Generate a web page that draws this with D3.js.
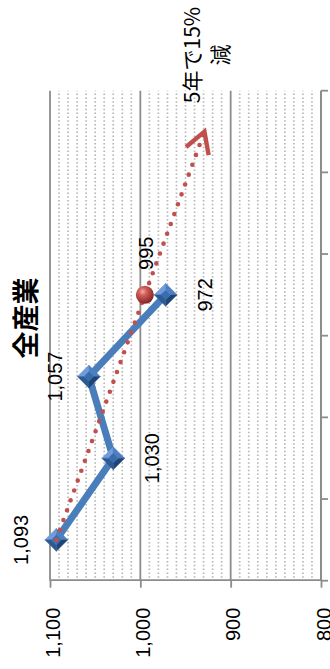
<!DOCTYPE html>
<html>
<head>
<meta charset="utf-8">
<script src="https://cdn.jsdelivr.net/npm/d3@7"></script>
<style>
  html, body { margin: 0; padding: 0; background: #fff; overflow: hidden; }
  svg { display: block; }
</style>
</head>
<body>
<svg id="chart" width="330" height="669"></svg>
<script>
// ---- data ----
const categories   = ["0年", "1年", "2年", "3年", "4年", "5年"];
const actualCats   = ["0年", "1年", "2年", "3年"];
const actualValues = [1093, 1030, 1057, 972];
const targetCats   = ["0年", "3年", "5年"];
const targetValues = [1093, 995, 929];
const valueTicks   = [800, 900, 1000, 1100];
const chartTitle   = "全産業";
const noteLines    = ["5年で15%", "減"];

// ---- layout (chart is laid out landscape, then turned a quarter turn) ----
const W = 669, H = 330;
const plot = { left: 88.3, right: 578.3, top: 50, bottom: 321 };
const numFont = "'Liberation Sans', Arial, sans-serif";
const jpFont = "'Noto Sans CJK JP', 'Noto Sans', sans-serif";
const blue = "#4a7ebb", red = "#c0504d", gridGrey = "#8c8c8c";

const svg = d3.select("#chart");
const defs = svg.append("defs");

const ball = defs.append("radialGradient").attr("id", "ball")
  .attr("cx", "38%").attr("cy", "32%").attr("r", "65%");
ball.append("stop").attr("offset", "0%").attr("stop-color", "#f2aaa6");
ball.append("stop").attr("offset", "35%").attr("stop-color", "#d05c58");
ball.append("stop").attr("offset", "100%").attr("stop-color", "#87282a");

const g = svg.append("g").attr("transform", `translate(0,${W}) rotate(-90)`);

const x = d3.scaleBand().domain(categories).range([plot.left, plot.right]);
const y = d3.scaleLinear().domain([800, 1100]).range([plot.bottom, plot.top]);
const cx = c => x(c) + x.bandwidth() / 2;

// minor gridlines every 10
const minor = y.ticks(30).filter(v => !valueTicks.includes(v));
g.append("g").selectAll("line").data(minor).join("line")
  .attr("x1", plot.left + 3).attr("x2", plot.right)
  .attr("y1", d => y(d)).attr("y2", d => y(d))
  .attr("stroke", "#b6b6b6").attr("stroke-width", 1.7)
  .attr("stroke-dasharray", "1.5 2.3");

// major gridlines
g.append("g").selectAll("line").data(valueTicks).join("line")
  .attr("x1", plot.left).attr("x2", plot.right)
  .attr("y1", d => y(d)).attr("y2", d => y(d))
  .attr("stroke", gridGrey).attr("stroke-width", 1.8);

// value axis: line, outside ticks and labels
const yAxis = g.append("g").attr("transform", `translate(${plot.left},0)`)
  .call(d3.axisLeft(y).tickValues(valueTicks).tickSize(7).tickSizeOuter(0).tickPadding(20)
    .tickFormat(d3.format(",")));
yAxis.select(".domain").attr("stroke", gridGrey).attr("stroke-width", 1.8);
yAxis.selectAll(".tick line").attr("stroke", gridGrey).attr("stroke-width", 1.8);
yAxis.selectAll(".tick text").attr("dy", "0.45em")
  .attr("font-family", numFont).attr("font-size", 20).attr("fill", "#000");

// category axis along the 800 line, ticks between categories
const bounds = categories.map(c => x(c)).concat([x.range()[1]]);
const xAxis = g.append("g").attr("transform", `translate(0,${plot.bottom})`);
xAxis.append("line").attr("x1", plot.left).attr("x2", plot.right)
  .attr("stroke", gridGrey).attr("stroke-width", 1.8);
xAxis.selectAll("line.tk").data(bounds).join("line").attr("class", "tk")
  .attr("x1", d => d).attr("x2", d => d).attr("y1", 0).attr("y2", 7)
  .attr("stroke", gridGrey).attr("stroke-width", 1.8);

// actual series
const actual = actualCats.map((c, i) => ({ c, v: actualValues[i] }));
g.append("path").datum(actual)
  .attr("d", d3.line().x(d => cx(d.c)).y(d => y(d.v)))
  .attr("fill", "none").attr("stroke", blue).attr("stroke-width", 7)
  .attr("stroke-linejoin", "round");

// bevelled diamond markers, drawn upright on the page
const s = 11.5, k = 0.42;
const T = [0, -s], R = [s, 0], B = [0, s], L = [-s, 0];
const t = [0, -s * k], r = [s * k, 0], b = [0, s * k], l = [-s * k, 0];
const facets = [
  { pts: [T, L, l, t], fill: "#6f9ddc" },
  { pts: [T, R, r, t], fill: "#4d80c2" },
  { pts: [B, R, r, b], fill: "#1f4577" },
  { pts: [B, L, l, b], fill: "#2c5a93" },
  { pts: [t, r, b, l], fill: "#3a6cad" }
];
const markers = g.append("g").selectAll("g").data(actual).join("g")
  .attr("transform", d => `translate(${cx(d.c)},${y(d.v)}) rotate(90)`);
facets.forEach(f => {
  markers.append("polygon").attr("points", f.pts.map(p => p.join(",")).join(" "))
    .attr("fill", f.fill).attr("stroke", f.fill).attr("stroke-width", 0.4);
});

// labels for the actual series, alternating sides of the line
const labelDy = [-28, 45.5, -27, 46];
g.append("g").selectAll("text").data(actual).join("text")
  .attr("x", d => cx(d.c)).attr("y", (d, i) => y(d.v) + labelDy[i])
  .attr("text-anchor", "middle")
  .attr("font-family", numFont).attr("font-size", 20).attr("fill", "#000")
  .text(d => d3.format(",")(d.v));

// target trend: dotted line ending in an open arrow
const target = targetCats.map((c, i) => ({ c, v: targetValues[i] }));
g.append("path").datum(target)
  .attr("d", d3.line().x(d => cx(d.c)).y(d => y(d.v)))
  .attr("fill", "none").attr("stroke", red).attr("stroke-width", 4.6)
  .attr("stroke-linecap", "round").attr("stroke-dasharray", "0 10.5");

const tip = target[target.length - 1], prev = target[target.length - 2];
const tx = cx(tip.c), ty = y(tip.v);
const ang = Math.atan2(ty - y(prev.v), tx - cx(prev.c));
const arm = 24, spread = Math.PI / 6;
const a1 = [tx + arm * Math.cos(ang + Math.PI - spread), ty + arm * Math.sin(ang + Math.PI - spread)];
const a2 = [tx + arm * Math.cos(ang + Math.PI + spread), ty + arm * Math.sin(ang + Math.PI + spread)];
g.append("path")
  .attr("d", `M${a1[0]},${a1[1]}L${tx},${ty}L${a2[0]},${a2[1]}`)
  .attr("fill", "none").attr("stroke", red).attr("stroke-width", 4.4)
  .attr("stroke-linejoin", "miter");

// highlighted target point and its label
const mid = target[1];
g.append("circle").attr("transform", `translate(${cx(mid.c)},${y(mid.v)}) rotate(90)`)
  .attr("r", 9).attr("fill", "url(#ball)");
g.append("text").attr("x", cx(mid.c) + 25).attr("y", y(mid.v) + 8)
  .attr("font-family", numFont).attr("font-size", 20).attr("fill", "#000")
  .text(d3.format(",")(mid.v));

// note beside the arrow
const note = g.append("text").attr("text-anchor", "middle")
  .attr("font-family", jpFont).attr("font-size", 21).attr("fill", "#000");
noteLines.forEach((line, i) => {
  note.append("tspan").attr("x", 614).attr("y", 200 + i * 28).text(line);
});

// title
g.append("text").attr("x", 351).attr("y", 36).attr("text-anchor", "middle")
  .attr("font-family", jpFont).attr("font-size", 27).attr("font-weight", "bold")
  .attr("fill", "#000").text(chartTitle);
</script>
</body>
</html>
